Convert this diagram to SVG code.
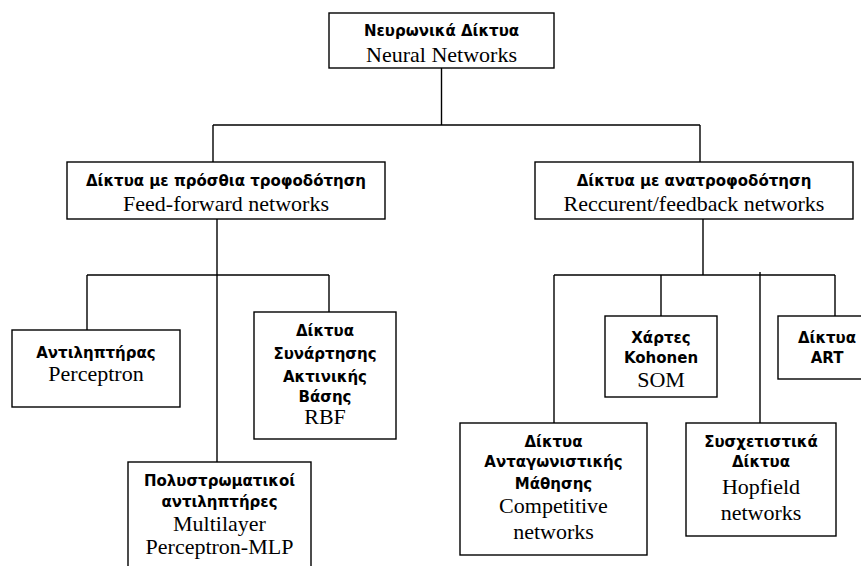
<svg xmlns="http://www.w3.org/2000/svg" width="861" height="566" viewBox="0 0 861 566">
<style>
rect.n{fill:#fff;stroke:#000;stroke-width:1.4}
.c line{stroke:#000;stroke-width:1.4}
.g{font-family:"DejaVu Sans","Liberation Sans",sans-serif;font-weight:bold;font-size:15px;text-anchor:middle;fill:#000}
.e{font-family:"Liberation Serif","Times New Roman",serif;font-size:22px;text-anchor:middle;fill:#000}
</style>
<rect width="861" height="566" fill="#fff"/>
<g class="c" id="connectors">
<line x1="441.5" y1="68" x2="441.5" y2="125"/>
<line x1="213" y1="125" x2="700" y2="125"/>
<line x1="213" y1="125" x2="213" y2="162"/>
<line x1="700" y1="125" x2="700" y2="162"/>
<line x1="217" y1="219" x2="217" y2="462"/>
<line x1="87" y1="275" x2="329" y2="275"/>
<line x1="87" y1="275" x2="87" y2="330"/>
<line x1="329" y1="275" x2="329" y2="312"/>
<line x1="703" y1="219" x2="703" y2="275"/>
<line x1="554" y1="275" x2="835" y2="275"/>
<line x1="554" y1="275" x2="554" y2="423"/>
<line x1="661" y1="275" x2="661" y2="316"/>
<line x1="760" y1="272" x2="760" y2="423"/>
<line x1="835" y1="275" x2="835" y2="316"/>
</g>
<g id="root">
<rect class="n" x="329" y="13" width="225" height="55"/>
<text class="g" x="441.5" y="36">Νευρωνικά Δίκτυα</text>
<text class="e" x="441.5" y="62">Neural Networks</text>
</g>
<g id="feedforward">
<rect class="n" x="67" y="162" width="318" height="57"/>
<text class="g" x="226" y="186">Δίκτυα με πρόσθια τροφοδότηση</text>
<text class="e" x="226" y="211">Feed-forward networks</text>
</g>
<g id="recurrent">
<rect class="n" x="535" y="162" width="318" height="57"/>
<text class="g" x="694" y="186">Δίκτυα με ανατροφοδότηση</text>
<text class="e" x="694" y="211">Reccurent/feedback networks</text>
</g>
<g id="perceptron">
<rect class="n" x="12" y="330" width="168" height="77"/>
<text class="g" x="96" y="358">Αντιληπτήρας</text>
<text class="e" x="96" y="381">Perceptron</text>
</g>
<g id="rbf">
<rect class="n" x="254" y="312" width="142" height="127"/>
<text class="g" x="325" y="336">Δίκτυα</text>
<text class="g" x="325" y="359">Συνάρτησης</text>
<text class="g" x="325" y="382">Ακτινικής</text>
<text class="g" x="325" y="402">Βάσης</text>
<text class="e" x="325" y="424">RBF</text>
</g>
<g id="mlp">
<rect class="n" x="128" y="462" width="183" height="120"/>
<text class="g" x="219.5" y="486">Πολυστρωματικοί</text>
<text class="g" x="219.5" y="507">αντιληπτήρες</text>
<text class="e" x="219.5" y="531">Multilayer</text>
<text class="e" x="219.5" y="554">Perceptron-MLP</text>
</g>
<g id="som">
<rect class="n" x="605" y="316" width="112" height="81"/>
<text class="g" x="661" y="343">Χάρτες</text>
<text class="g" x="661" y="363">Kohonen</text>
<text class="e" x="661" y="387">SOM</text>
</g>
<g id="art">
<rect class="n" x="778" y="316" width="98" height="63"/>
<text class="g" x="827" y="343">Δίκτυα</text>
<text class="g" x="827" y="363">ART</text>
</g>
<g id="competitive">
<rect class="n" x="460" y="423" width="187" height="132"/>
<text class="g" x="553.5" y="447">Δίκτυα</text>
<text class="g" x="553.5" y="467">Ανταγωνιστικής</text>
<text class="g" x="553.5" y="489">Μάθησης</text>
<text class="e" x="553.5" y="513">Competitive</text>
<text class="e" x="553.5" y="539">networks</text>
</g>
<g id="hopfield">
<rect class="n" x="686" y="423" width="150" height="113"/>
<text class="g" x="761" y="447">Συσχετιστικά</text>
<text class="g" x="761" y="467">Δίκτυα</text>
<text class="e" x="761" y="494">Hopfield</text>
<text class="e" x="761" y="520">networks</text>
</g>
</svg>
